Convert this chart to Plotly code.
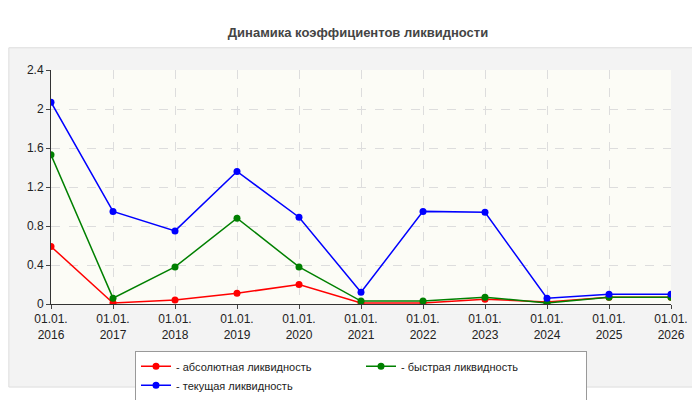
import plotly.graph_objects as go

years = ["2016", "2017", "2018", "2019", "2020", "2021", "2022", "2023", "2024", "2025", "2026"]
tick_labels = ["01.01.<br>" + y for y in years]
absolute = [0.59, 0.01, 0.04, 0.11, 0.20, 0.01, 0.01, 0.05, 0.02, 0.07, 0.07]
quick = [1.53, 0.06, 0.38, 0.88, 0.38, 0.03, 0.03, 0.07, 0.01, 0.07, 0.07]
current = [2.07, 0.95, 0.75, 1.36, 0.89, 0.12, 0.95, 0.94, 0.06, 0.10, 0.10]

x = list(range(len(years)))
fig = go.Figure()
for name, vals, col in [("- абсолютная ликвидность", absolute, "#ff0000"),
                        ("- быстрая ликвидность", quick, "#008000"),
                        ("- текущая ликвидность", current, "#0000ff")]:
    fig.add_trace(go.Scatter(x=x, y=vals, name=name, mode="lines+markers",
                             line=dict(color=col, width=1.5),
                             marker=dict(color=col, size=7)))

# grey panel behind everything, then the pale plot area on top of it
fig.add_shape(type="rect", xref="paper", yref="paper", x0=-0.068, x1=1.055, y0=-0.355, y1=1.095,
              fillcolor="#f3f3f3", line=dict(color="#dddddd", width=1), layer="below")
fig.add_shape(type="rect", xref="paper", yref="paper", x0=0, x1=1, y0=0, y1=1,
              fillcolor="#fcfcf6", line=dict(width=0), layer="below")

fig.update_layout(
    width=700, height=400,
    margin=dict(l=43, r=37, t=62, b=104, autoexpand=False),
    paper_bgcolor="white", plot_bgcolor="rgba(0,0,0,0)",
    font=dict(family="Liberation Sans, Arial", size=12, color="#222222"),
    title=dict(text="<b>Динамика коэффициентов ликвидности</b>", x=0.5, y=0.95,
               xanchor="center", font=dict(size=13, color="#444444")),
    showlegend=True,
    legend=dict(orientation="h", x=0.5, xanchor="center", y=-0.2, yanchor="top",
                bgcolor="white", bordercolor="#999999", borderwidth=1,
                font=dict(size=11), entrywidth=180),
    xaxis=dict(range=[0, 10], tickvals=x, ticktext=tick_labels, showgrid=True,
               gridcolor="#dddddd", griddash="dash", zeroline=False, automargin=False,
               showline=True, linecolor="#333333", ticks="outside", ticklen=4),
    yaxis=dict(range=[0, 2.4], dtick=0.4, tickformat="~g", showgrid=True,
               gridcolor="#dddddd", griddash="dash", zeroline=False, automargin=False,
               showline=True, linecolor="#333333", ticks="outside", ticklen=4),
)

fig.write_html("out.html")
